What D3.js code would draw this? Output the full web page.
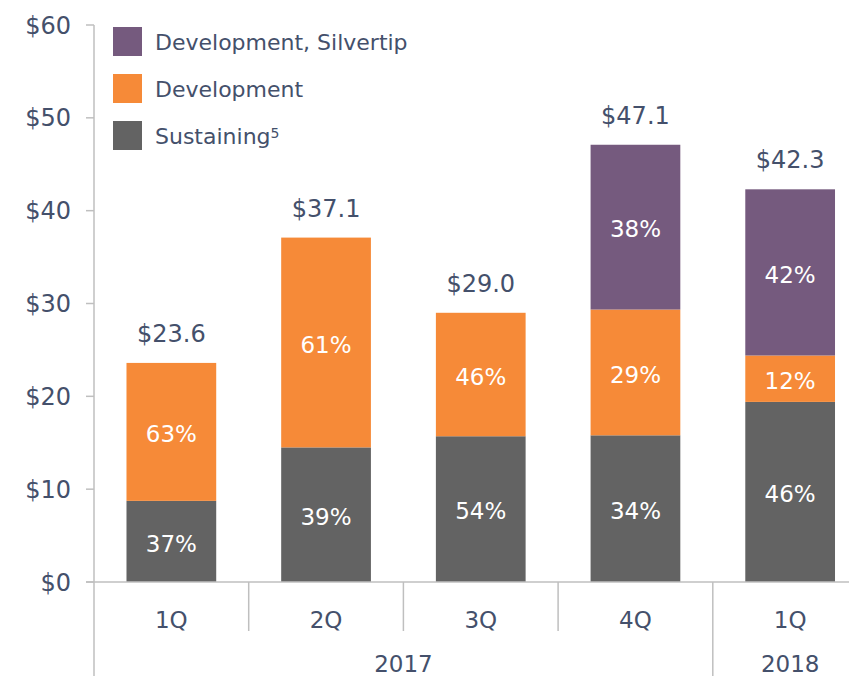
<!DOCTYPE html>
<html><head><meta charset="utf-8">
<script src="https://cdn.jsdelivr.net/npm/d3@7"></script>
<style>body{margin:0;background:#fff}svg{display:block}text{font-family:"DejaVu Sans",sans-serif}</style>
</head><body><svg id="c" width="849" height="676"></svg>
<script>
const quarters = ["1Q","2Q","3Q","4Q","1Q"];
const years = ["2017","2017","2017","2017","2018"];
const sustaining = [8.74, 14.5, 15.7, 15.8, 19.4];
const development = [14.86, 22.6, 13.3, 13.55, 5.0];
const silvertip = [0, 0, 0, 17.75, 17.9];
const totals = ["$23.6","$37.1","$29.0","$47.1","$42.3"];
const pctSustaining = ["37%","39%","54%","34%","46%"];
const pctDevelopment = ["63%","61%","46%","29%","12%"];
const pctSilvertip = ["","","","38%","42%"];
const yTicks = [0,10,20,30,40,50,60];
const seriesNames = ["Development, Silvertip","Development","Sustaining"];
const colors = {sus:"#636363", dev:"#F68A38", sil:"#755A7E"};
const textColor = "#44506B";

const svg = d3.select("#c");
const x0 = 94, y0 = 582;
const x = d3.scaleBand().domain(d3.range(5)).range([x0, x0 + 5*154.7]).padding(0);
const y = d3.scaleLinear().domain([0,60]).range([y0, 25]);
const bw = x.bandwidth()*0.58;

// axes
const axisColor = "#BFBFBF";
svg.append("line").attr("x1",x0).attr("x2",x0).attr("y1",y(60)).attr("y2",676).attr("stroke",axisColor).attr("stroke-width",1.5);
svg.selectAll(".tk").data(yTicks).join("line").attr("x1",86).attr("x2",x0).attr("y1",d=>y(d)).attr("y2",d=>y(d)).attr("stroke",axisColor).attr("stroke-width",1.5);
svg.selectAll(".tl").data(yTicks).join("text").attr("x",71).attr("y",d=>y(d)).attr("dy","0.36em").attr("text-anchor","end")
  .attr("font-size",24).attr("fill",textColor).text(d=>"$"+d);

// bars
const data = d3.range(5).map(i=>({i, segs:[
  {v0:0, v1:sustaining[i], c:colors.sus, p:pctSustaining[i]},
  {v0:sustaining[i], v1:sustaining[i]+development[i], c:colors.dev, p:pctDevelopment[i]},
  {v0:sustaining[i]+development[i], v1:sustaining[i]+development[i]+silvertip[i], c:colors.sil, p:pctSilvertip[i]}
]}));
const g = svg.selectAll(".bar").data(data).join("g");
g.each(function(d){
  const cx = x(d.i)+x.bandwidth()/2;
  const sel = d3.select(this);
  d.segs.filter(s=>s.v1>s.v0).forEach(s=>{
    sel.append("rect").attr("x",cx-bw/2).attr("width",bw).attr("y",y(s.v1)).attr("height",y(s.v0)-y(s.v1)).attr("fill",s.c);
    sel.append("text").attr("x",cx).attr("y",(y(s.v0)+y(s.v1))/2).attr("dy","0.45em").attr("text-anchor","middle")
      .attr("font-size",23).attr("fill","#fff").text(s.p);
  });
  const top = d.segs[2].v1;
  sel.append("text").attr("x",cx).attr("y",y(top)-21).attr("text-anchor","middle").attr("font-size",24).attr("fill",textColor).text(totals[d.i]);
});

// x axis line
svg.append("line").attr("x1",86).attr("x2",849).attr("y1",y0).attr("y2",y0).attr("stroke",axisColor).attr("stroke-width",1.5);
// dividers
[1,2,3].forEach(i=>svg.append("line").attr("x1",x(i)).attr("x2",x(i)).attr("y1",y0).attr("y2",631).attr("stroke",axisColor).attr("stroke-width",1.5));
svg.append("line").attr("x1",x(4)).attr("x2",x(4)).attr("y1",y0).attr("y2",676).attr("stroke",axisColor).attr("stroke-width",1.5);
// quarter labels
svg.selectAll(".ql").data(quarters).join("text").attr("x",(d,i)=>x(i)+x.bandwidth()/2).attr("y",628)
  .attr("text-anchor","middle").attr("font-size",23).attr("fill",textColor).text(d=>d);
// year labels
const yearGroups = d3.groups(d3.range(5), i=>years[i]);
yearGroups.forEach(([yr, idx])=>{
  const a = x(idx[0]), b = x(idx[idx.length-1])+x.bandwidth();
  svg.append("text").attr("x",(a+b)/2).attr("y",672).attr("text-anchor","middle")
    .attr("font-size",23).attr("fill",textColor).text(yr);
});

// legend
const legColors = [colors.sil, colors.dev, colors.sus];
seriesNames.forEach((n,i)=>{
  const ly = 27 + i*47;
  svg.append("rect").attr("x",113).attr("y",ly).attr("width",29).attr("height",29).attr("fill",legColors[i]);
  const t = svg.append("text").attr("x",155).attr("y",ly+14.5).attr("dy","0.38em").attr("font-size",22).attr("fill",textColor).text(n);
  if(i===2) t.append("tspan").attr("dy","-0.45em").attr("font-size",14).text("5");
});
</script></body></html>
